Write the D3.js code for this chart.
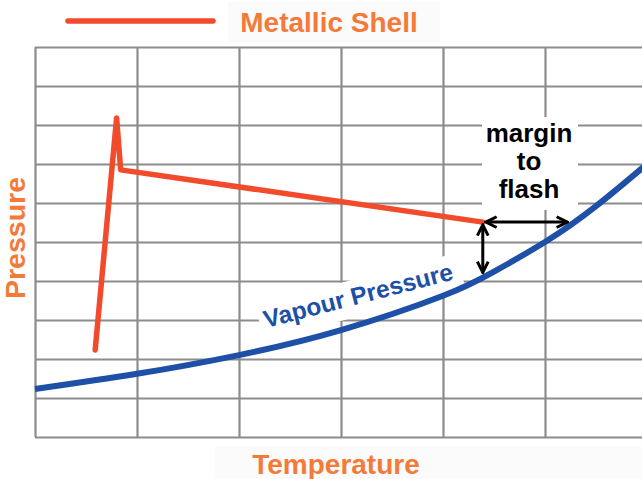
<!DOCTYPE html>
<html>
<head>
<meta charset="utf-8">
<script src="https://cdn.jsdelivr.net/npm/d3@7"></script>
<style>
  body { margin: 0; background: #fff; }
  svg { display: block; }
  .grid line { stroke: #8c8c8c; stroke-width: 2.2; }
  .grid path { display: none; }
  text { font-family: "Liberation Sans", Arial, sans-serif; font-weight: bold; }
</style>
</head>
<body>
<svg id="chart" width="642" height="479"></svg>
<script>
"use strict";

// temperature / pressure in grid units (one unit per grid cell)
var shellTemp = [0.59, 0.80, 0.84, 4.39];
var shellPres = [2.23, 8.18, 6.85, 5.51];

var vapourTemp = [0, 1, 2, 3, 4, 4.5, 5, 5.5, 6, 6.1];
var vapourPres = [1.23, 1.62, 2.10, 2.74, 3.62, 4.24, 5.00, 5.92, 7.00, 7.22];

var gridTemp = [0, 1, 2, 3, 4, 5, 6];
var gridPres = [0, 1, 2, 3, 4, 5, 6, 7, 8, 9, 10];

// margin arrows: [t1, p1, t2, p2]
var marginArrows = [
  [4.39, 5.44, 4.39, 4.22],
  [4.42, 5.51, 5.22, 5.51]
];

var marginLabel = ["margin", "to", "flash"];

var ORANGE = "#f47a3a";
var SHELL = "#f14b2c";
var BLUE = "#1d50a6";

var svg = d3.select("#chart");

var x = d3.scaleLinear().domain([0, 6]).range([35, 647]);
var y = d3.scaleLinear().domain([0, 10]).range([437, 47]);

// layers, bottom to top
var back = svg.append("g");
var gridLayer = svg.append("g");
var boxes = svg.append("g");
var marks = svg.append("g");
var labels = svg.append("g");

// faint panels behind the titles
back.append("rect").attr("x", 215).attr("y", 446).attr("width", 427).attr("height", 33).attr("fill", "#fbfbfb");
back.append("rect").attr("x", 228).attr("y", 2).attr("width", 212).attr("height", 40).attr("fill", "#fbfbfb");

gridLayer.append("g")
  .attr("class", "grid")
  .attr("transform", "translate(0," + y(0) + ")")
  .call(d3.axisBottom(x).tickValues(gridTemp).tickSize(y(10) - y(0)).tickFormat(""));

gridLayer.append("g")
  .attr("class", "grid")
  .attr("transform", "translate(" + x(0) + ",0)")
  .call(d3.axisLeft(y).tickValues(gridPres).tickSize(x(0) - x(6)).tickFormat(""));

// white boxes that break the grid behind the labels
boxes.append("rect")
  .attr("x", 482).attr("y", 117).attr("width", 96).attr("height", 93)
  .attr("fill", "#fff");

var vapourPos = "translate(266,328) rotate(-14.5)";
boxes.append("rect")
  .attr("transform", vapourPos)
  .attr("x", -5).attr("y", -25).attr("width", 208).attr("height", 37)
  .attr("fill", "#fff");

// vapour pressure curve
var vapourLine = d3.line()
  .x(function(d, i) { return x(vapourTemp[i]); })
  .y(function(d, i) { return y(vapourPres[i]); })
  .curve(d3.curveNatural);

marks.append("path")
  .datum(vapourTemp)
  .attr("d", vapourLine)
  .attr("fill", "none")
  .attr("stroke", BLUE)
  .attr("stroke-width", 6);

// metallic shell
var shellLine = d3.line()
  .x(function(d, i) { return x(shellTemp[i]); })
  .y(function(d, i) { return y(shellPres[i]); });

marks.append("path")
  .datum(shellTemp)
  .attr("d", shellLine)
  .attr("fill", "none")
  .attr("stroke", SHELL)
  .attr("stroke-width", 5.5)
  .attr("stroke-linejoin", "round")
  .attr("stroke-linecap", "round");

// arrows
svg.append("defs").append("marker")
  .attr("id", "head")
  .attr("viewBox", "0 0 10 10")
  .attr("refX", 9).attr("refY", 5)
  .attr("markerWidth", 4.5).attr("markerHeight", 4.5)
  .attr("markerUnits", "strokeWidth")
  .attr("orient", "auto-start-reverse")
  .append("path")
    .attr("d", "M1,1 L9,5 L1,9")
    .attr("fill", "none")
    .attr("stroke", "#000")
    .attr("stroke-width", 2.2);

marks.selectAll(".arrow")
  .data(marginArrows)
  .enter().append("line")
    .attr("class", "arrow")
    .attr("x1", function(d) { return x(d[0]); })
    .attr("y1", function(d) { return y(d[1]); })
    .attr("x2", function(d) { return x(d[2]); })
    .attr("y2", function(d) { return y(d[3]); })
    .attr("stroke", "#000")
    .attr("stroke-width", 3)
    .attr("marker-start", "url(#head)")
    .attr("marker-end", "url(#head)");

labels.append("text")
  .attr("transform", vapourPos)
  .attr("fill", BLUE)
  .style("font-size", "24.5px")
  .text("Vapour Pressure");

labels.selectAll(".mlabel")
  .data(marginLabel)
  .enter().append("text")
    .attr("class", "mlabel")
    .attr("x", 529)
    .attr("y", function(d, i) { return 142 + i * 28; })
    .attr("text-anchor", "middle")
    .attr("fill", "#000")
    .style("font-size", "26px")
    .text(function(d) { return d; });

// legend
labels.append("line")
  .attr("x1", 68).attr("x2", 213).attr("y1", 21).attr("y2", 21)
  .attr("stroke", SHELL).attr("stroke-width", 5.5).attr("stroke-linecap", "round");

labels.append("text")
  .attr("x", 329).attr("y", 32)
  .attr("text-anchor", "middle")
  .attr("fill", ORANGE)
  .style("font-size", "28px")
  .text("Metallic Shell");

// axis titles
labels.append("text")
  .attr("x", 336).attr("y", 474)
  .attr("text-anchor", "middle")
  .attr("fill", ORANGE)
  .style("font-size", "28px")
  .text("Temperature");

labels.append("text")
  .attr("transform", "translate(25,238) rotate(-90)")
  .attr("text-anchor", "middle")
  .attr("fill", ORANGE)
  .style("font-size", "28.5px")
  .text("Pressure");
</script>
</body>
</html>
